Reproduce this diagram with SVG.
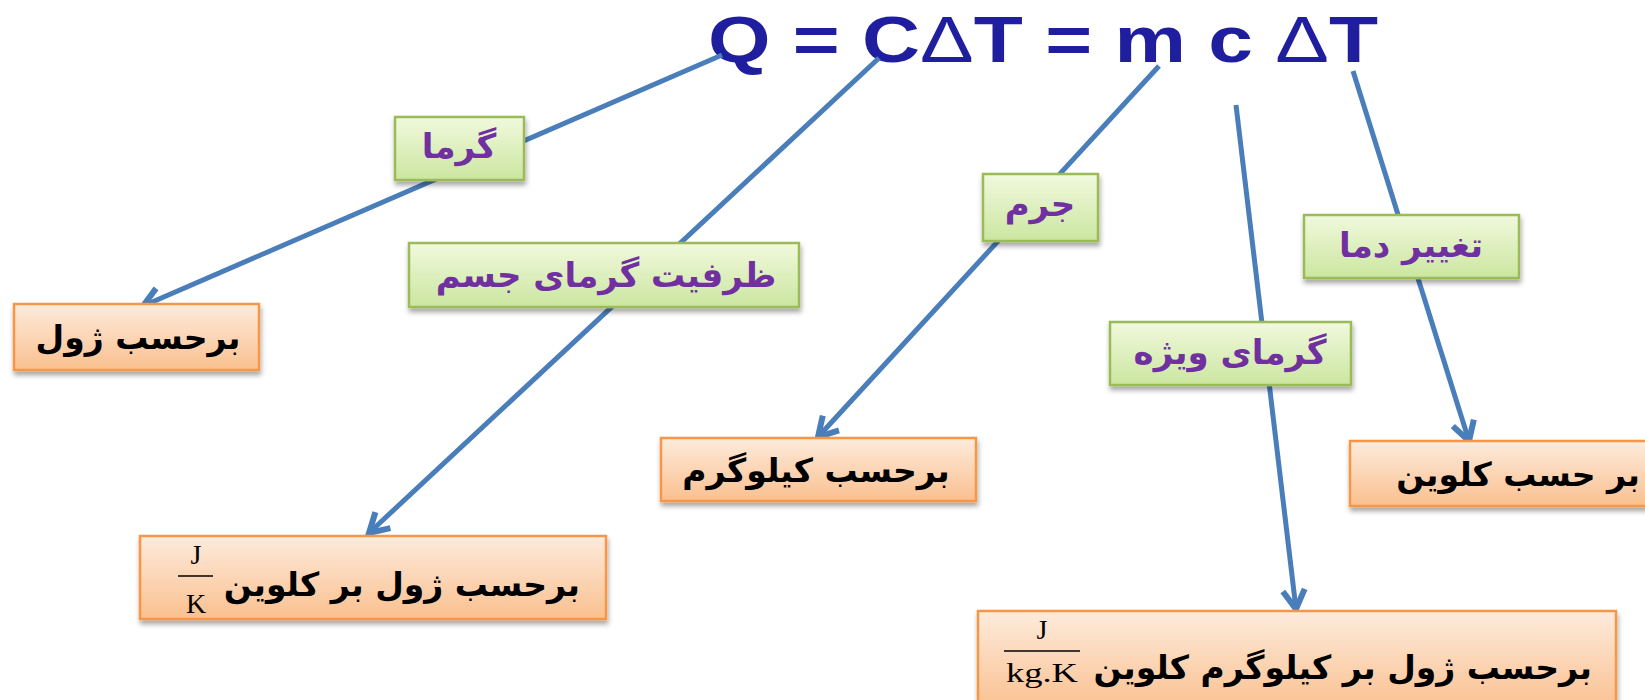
<svg xmlns="http://www.w3.org/2000/svg" width="1645" height="700" viewBox="0 0 1645 700">
<defs>
<linearGradient id="gGreen" x1="0" y1="0" x2="0" y2="1">
<stop offset="0" stop-color="#F1F9DD"/>
<stop offset="1" stop-color="#CBE6A0"/>
</linearGradient>
<linearGradient id="gOrange" x1="0" y1="0" x2="0" y2="1">
<stop offset="0" stop-color="#FDEBDC"/>
<stop offset="1" stop-color="#FAC08F"/>
</linearGradient>
<filter id="shadow" x="-10%" y="-20%" width="120%" height="150%">
<feDropShadow dx="1" dy="4" stdDeviation="2.5" flood-color="#000" flood-opacity="0.35"/>
</filter>
<marker id="arrow" markerUnits="userSpaceOnUse" markerWidth="32" markerHeight="32" viewBox="0 0 32 32" refX="26" refY="16" orient="auto">
<path d="M7,5 L26,16 L7,27" fill="none" stroke="#4A7EBB" stroke-width="6" stroke-linejoin="miter"/>
</marker>
</defs>
<style>
.conn{stroke:#4A7EBB;stroke-width:5;fill:none;}
.green rect{fill:url(#gGreen);stroke:#9BBB59;stroke-width:2.5;filter:url(#shadow);}
.orange rect{fill:url(#gOrange);stroke:#F79646;stroke-width:2.5;filter:url(#shadow);}
.gt{font-family:"DejaVu Sans",sans-serif;font-weight:bold;font-size:34px;fill:#7030A0;}
.ot{font-family:"DejaVu Sans",sans-serif;font-weight:bold;font-size:33px;fill:#000;}
.frac{font-family:"Liberation Serif",serif;font-size:28px;fill:#000;}
.title{font-family:"Liberation Sans",Arial,sans-serif;font-weight:bold;font-size:65px;fill:#1E1E9E;}
</style>
<rect width="1645" height="700" fill="#fff"/>
<text class="title" x="708" y="62" textLength="670" lengthAdjust="spacingAndGlyphs">Q = C<tspan font-weight="normal">Δ</tspan>T = m c <tspan font-weight="normal">Δ</tspan>T</text>
<g id="connectors">
<line class="conn" x1="722" y1="55" x2="143" y2="306" marker-end="url(#arrow)"/>
<line class="conn" x1="879" y1="58" x2="369" y2="533" marker-end="url(#arrow)"/>
<line class="conn" x1="1159" y1="66" x2="818" y2="437" marker-end="url(#arrow)"/>
<line class="conn" x1="1236" y1="105" x2="1296" y2="609" marker-end="url(#arrow)"/>
<line class="conn" x1="1353" y1="71" x2="1469" y2="441" marker-end="url(#arrow)"/>
</g>
<g id="n-garma" class="green"><rect x="395" y="117" width="129" height="63"/><text class="gt" x="459" y="158" text-anchor="middle">گرما</text></g>
<g id="n-zarfiat" class="green"><rect x="409" y="243" width="390" height="64"/><text class="gt" x="606" y="287" text-anchor="middle">ظرفیت گرمای جسم</text></g>
<g id="n-jerm" class="green"><rect x="983" y="174" width="115" height="67"/><text class="gt" x="1040" y="216" text-anchor="middle">جرم</text></g>
<g id="n-taghir" class="green"><rect x="1304" y="215" width="215" height="63"/><text class="gt" x="1411" y="257" text-anchor="middle" font-size="37">تغییر دما</text></g>
<g id="n-vizhe" class="green"><rect x="1110" y="322" width="241" height="63"/><text class="gt" x="1230" y="364" text-anchor="middle">گرمای ویژه</text></g>
<g id="n-joule" class="orange"><rect x="14" y="304" width="245" height="66"/><text class="ot" x="138" y="349" text-anchor="middle">برحسب ژول</text></g>
<g id="n-jk" class="orange"><rect x="140" y="536" width="466" height="83"/><text class="ot" x="580" y="596" text-anchor="end">برحسب ژول بر کلوین</text><text class="frac" x="196" y="564" text-anchor="middle">J</text><line x1="178" y1="576" x2="213" y2="576" stroke="#000" stroke-width="1.5"/><text class="frac" x="196" y="613" text-anchor="middle">K</text></g>
<g id="n-kg" class="orange"><rect x="661" y="438" width="315" height="63"/><text class="ot" x="816" y="482" text-anchor="middle">برحسب کیلوگرم</text></g>
<g id="n-kelvin" class="orange"><rect x="1350" y="441" width="310" height="65"/><text class="ot" x="1640" y="486" text-anchor="end" font-size="36">بر حسب کلوین</text></g>
<g id="n-jkgk" class="orange"><rect x="978" y="611" width="638" height="100"/><text class="ot" x="1592" y="679" text-anchor="end">برحسب ژول بر کیلوگرم کلوین</text><text class="frac" x="1042" y="639" text-anchor="middle">J</text><line x1="1004" y1="651" x2="1080" y2="651" stroke="#000" stroke-width="1.5"/><text class="frac" x="1042" y="682" text-anchor="middle" textLength="72" lengthAdjust="spacingAndGlyphs">kg.K</text></g>
</svg>
